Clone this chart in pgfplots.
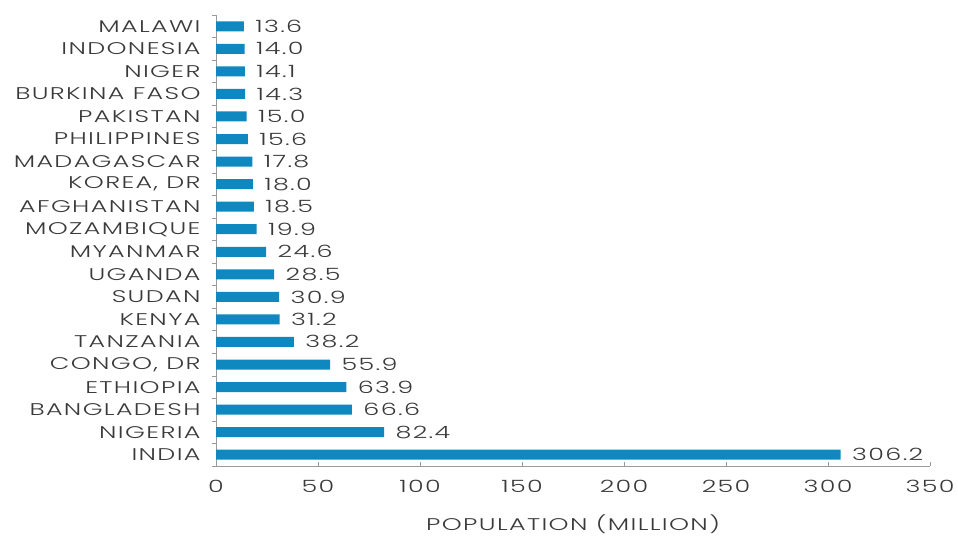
\documentclass[border=0pt]{standalone}
\usepackage{pgfplots}
\pgfplotsset{compat=1.18}
\usepackage{fontspec}
\setmainfont{Poppins}[UprightFont={* Light}, FakeStretch=1.5, LetterSpace=8]
\definecolor{barblue}{HTML}{0E88BF}
\definecolor{txt}{HTML}{3A3A3A}
\definecolor{axgray}{HTML}{9A9A9A}
\begin{document}
\begin{tikzpicture}
\begin{axis}[
  scale only axis,
  width=714bp, height=451bp,
  xbar, bar width=10bp,
  xmin=0, xmax=350,
  ymin=-0.5, ymax=19.5,
  xtick={0,50,...,350},
  ytick={0,...,19},
  yticklabels={INDIA,NIGERIA,BANGLADESH,ETHIOPIA,{CONGO, DR},TANZANIA,KENYA,SUDAN,UGANDA,MYANMAR,MOZAMBIQUE,AFGHANISTAN,{KOREA, DR},MADAGASCAR,PHILIPPINES,PAKISTAN,BURKINA FASO,NIGER,INDONESIA,MALAWI},
  minor ytick={-0.5,0.5,...,19.5},
  axis x line*=bottom, axis y line*=left,
  axis line style={axgray, line width=0.8pt},
  every tick/.style={axgray, line width=0.6pt},
  major tick length=4pt,
  minor tick length=4pt,
  major y tick style={draw=none},
  xtick align=inside,
  ytick align=outside,
  /pgf/number format/assume math mode=true,
  ticklabel style={font=\fontsize{17}{17}\selectfont, text=txt},
  xticklabel style={yshift=-11bp},
  yticklabel style={xshift=-8bp},
  xlabel={POPULATION (MILLION)},
  xlabel style={font=\fontsize{17}{17}\selectfont, text=txt, yshift=-15bp},
  nodes near coords,
  nodes near coords style={font=\fontsize{17}{17}\selectfont, text=txt, anchor=west, xshift=8bp,
    /pgf/number format/fixed, /pgf/number format/precision=1, /pgf/number format/fixed zerofill},
  clip=false,
]
\addplot[fill=barblue, draw=none] coordinates {
(306.2,0) (82.4,1) (66.6,2) (63.9,3) (55.9,4) (38.2,5) (31.2,6) (30.9,7) (28.5,8) (24.6,9)
(19.9,10) (18.5,11) (18.0,12) (17.8,13) (15.6,14) (15.0,15) (14.3,16) (14.1,17) (14.0,18) (13.6,19)};
\path (axis cs:-105.9,-3.56) rectangle (axis cs:363.7,20.165);
\end{axis}
\end{tikzpicture}
\end{document}
